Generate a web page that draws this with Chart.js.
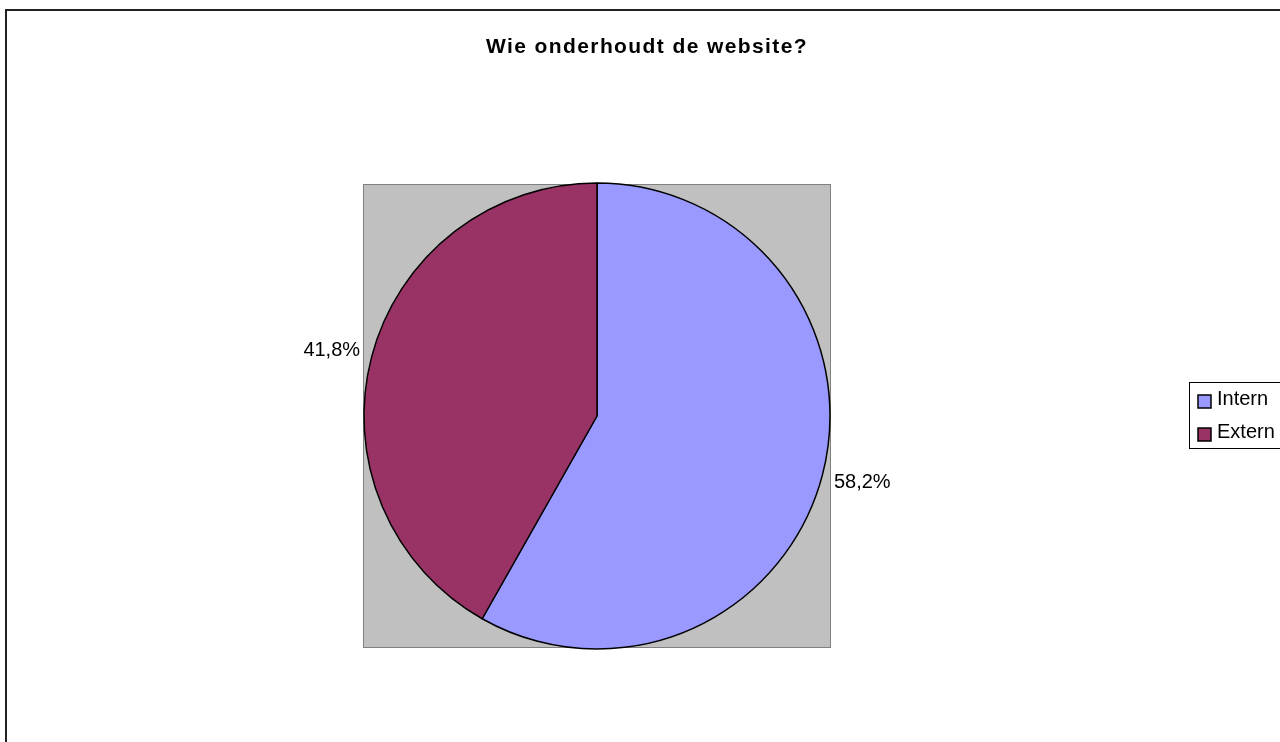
<!DOCTYPE html>
<html>
<head>
<meta charset="utf-8">
<script src="https://cdn.jsdelivr.net/npm/chart.js@4/dist/chart.umd.min.js"></script>
<style>
  html, body { margin: 0; padding: 0; background: #fff; }
  #wrap { width: 1280px; height: 742px; }
</style>
</head>
<body>
<div id="wrap"><canvas id="taart" width="1280" height="742"></canvas></div>
<script>
const titel = "Wie onderhoudt de website?";
const labels = ["Intern", "Extern"];
const waarden = [58.2, 41.8];
const kleuren = ["#9999FF", "#993366"];

const font = "Liberation Sans, Arial, sans-serif";

// grijze plotruimte + kader om alles heen
const achtergrond = {
  id: "achtergrond",
  beforeDatasetsDraw(chart) {
    const { ctx, chartArea: a } = chart;
    ctx.save();
    ctx.fillStyle = "#C0C0C0";
    ctx.fillRect(a.left, a.top, a.right - a.left, a.bottom - a.top);
    ctx.strokeStyle = "#808080";
    ctx.lineWidth = 1;
    ctx.strokeRect(a.left + 0.5, a.top + 0.5, a.right - a.left - 1, a.bottom - a.top - 1);
    ctx.restore();
  },
  afterDraw(chart) {
    const ctx = chart.ctx;
    ctx.save();
    ctx.strokeStyle = "#222";
    ctx.lineWidth = 2;
    ctx.strokeRect(6, 10, 1300, 760);

    // titel
    ctx.fillStyle = "#000";
    ctx.font = "bold 21px " + font;
    ctx.letterSpacing = "1.4px";
    ctx.textAlign = "center";
    ctx.textBaseline = "alphabetic";
    ctx.fillText(titel, 647, 53);
    ctx.letterSpacing = "0px";

    // percentages naast de taartpunten
    const meta = chart.getDatasetMeta(0);
    ctx.font = "20px " + font;
    ctx.textBaseline = "middle";
    meta.data.forEach((arc, i) => {
      const hoek = (arc.startAngle + arc.endAngle) / 2;
      const r = arc.outerRadius + 12;
      const x = arc.x + Math.cos(hoek) * r;
      const y = arc.y + Math.sin(hoek) * r + Math.sin(hoek) * 14;
      ctx.textAlign = Math.cos(hoek) >= 0 ? "left" : "right";
      const tekst = waarden[i].toFixed(1).replace(".", ",") + "%";
      ctx.fillText(tekst, x, y);
    });

    // legenda
    ctx.fillStyle = "#fff";
    ctx.fillRect(1189, 382, 100, 67);
    ctx.strokeStyle = "#000";
    ctx.lineWidth = 1;
    ctx.strokeRect(1189.5, 382.5, 100, 66);
    ctx.font = "20px " + font;
    ctx.textAlign = "left";
    ctx.textBaseline = "alphabetic";
    labels.forEach((lab, i) => {
      const basis = 405 + i * 33;
      ctx.fillStyle = kleuren[i];
      ctx.fillRect(1198, basis - 10, 13, 13);
      ctx.strokeStyle = "#000";
      ctx.lineWidth = 1.5;
      ctx.strokeRect(1198, basis - 10, 13, 13);
      ctx.fillStyle = "#000";
      ctx.fillText(lab, 1217, basis);
    });
    ctx.restore();
  }
};

new Chart(document.getElementById("taart"), {
  type: "pie",
  data: {
    labels,
    datasets: [{
      data: waarden,
      backgroundColor: kleuren,
      borderColor: "#000",
      borderWidth: 1.5
    }]
  },
  options: {
    responsive: false,
    animation: false,
    rotation: 0,
    radius: 233,
    layout: { padding: { left: 363, right: 449, top: 184, bottom: 94 } },
    plugins: {
      legend: { display: false },
      title: { display: false },
      tooltip: { enabled: false }
    }
  },
  plugins: [achtergrond]
});
</script>
</body>
</html>
